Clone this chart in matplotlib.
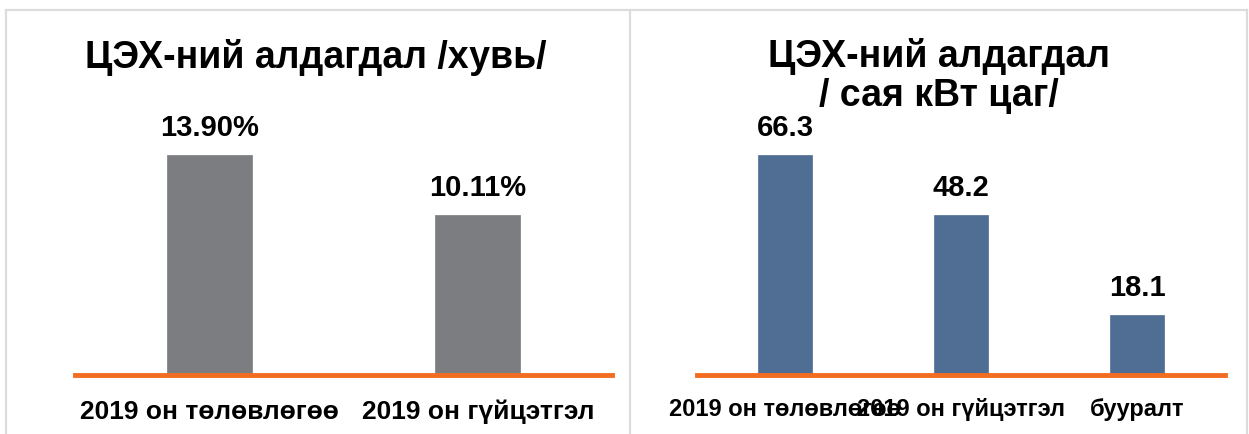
import matplotlib
matplotlib.use("Agg")
import matplotlib.pyplot as plt
from matplotlib.lines import Line2D
import numpy as np

plt.rcParams['font.family'] = ['Liberation Sans', 'DejaVu Sans']

# Data
left_title = "ЦЭХ-ний алдагдал /хувь/"
left_categories = ["2019 он төлөвлөгөө", "2019 он гүйцэтгэл"]
left_values = [13.90, 10.11]
left_labels = ["13.90%", "10.11%"]

right_title = "ЦЭХ-ний алдагдал\n/ сая кВт цаг/"
right_categories = ["2019 он төлөвлөгөө", "2019 он гүйцэтгэл", "бууралт"]
right_values = [66.3, 48.2, 18.1]
right_labels = ["66.3", "48.2", "18.1"]

W, H = 1249, 435
fig = plt.figure(figsize=(W / 100, H / 100), dpi=100)

def px_rect(x0, x1, ytop, ybot):
    return [x0 / W, (H - ybot) / H, (x1 - x0) / W, (ybot - ytop) / H]

GRAY = "#7c7d81"
BLUE = "#506d93"
ORANGE = "#f26d21"

def draw(ax, cats, vals, labels, color, width, label_pad, cat_size, val_size):
    x = np.arange(len(cats))
    ax.bar(x, vals, width=width, color=color, edgecolor=color, linewidth=0.5, zorder=2)
    ax.set_xlim(-0.5, len(cats) - 0.5)
    ax.set_ylim(0, max(vals))
    for s in ax.spines.values():
        s.set_visible(False)
    ax.set_yticks([])
    ax.set_xticks([])
    ax.axhline(0, color=ORANGE, lw=3.5, zorder=3, clip_on=False)
    for xi, v, lab in zip(x, vals, labels):
        ax.annotate(lab, (xi, v), xytext=(0, 10), textcoords="offset points",
                    ha="center", va="bottom", fontsize=val_size, fontweight="bold",
                    annotation_clip=False)
    for xi, c in zip(x, cats):
        ax.annotate(c, (xi, 0), xytext=(0, -label_pad), textcoords="offset points",
                    ha="center", va="top", fontsize=cat_size, fontweight="bold",
                    annotation_clip=False)

ax1 = fig.add_axes(px_rect(75, 612, 156, 376))
draw(ax1, left_categories, left_values, left_labels, GRAY, 0.317, 17, 19, 21)
fig.text(316 / W, 1 - 57 / H, left_title, ha="center", va="center",
         fontsize=27, fontweight="bold")

ax2 = fig.add_axes(px_rect(697, 1225, 156, 376))
draw(ax2, right_categories, right_values, right_labels, BLUE, 0.31, 16, 17, 21)
fig.text(939 / W, 1 - 76 / H, right_title, ha="center", va="center",
         fontsize=27, fontweight="bold", linespacing=1.12)

# panel borders
bc = "#dcdcdc"
for (xs, ys) in [((6, 1247), (11, 11)), ((6, 6), (11, 435)), ((630, 630), (11, 435)), ((1247, 1247), (11, 435))]:
    fig.add_artist(Line2D([xs[0] / W, xs[1] / W], [1 - ys[0] / H, 1 - ys[1] / H],
                          color=bc, lw=1.6, transform=fig.transFigure))

fig.savefig("out.png", dpi=100)
